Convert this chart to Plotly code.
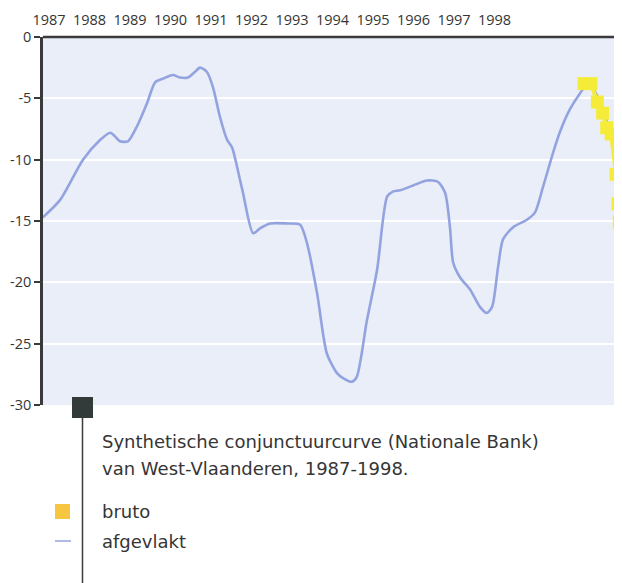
import plotly.graph_objects as go

# smoothed series (afgevlakt): time in fractional years, value
smooth_t = [1986.85, 1987.27, 1987.84, 1988.26, 1988.51, 1988.63, 1988.75, 1988.95,
            1989.17, 1989.42, 1989.62, 1989.81, 1990.06, 1990.23, 1990.43, 1990.60,
            1990.73, 1990.90, 1991.05, 1991.22, 1991.40, 1991.52, 1991.72, 1991.79,
            1992.04, 1992.21, 1992.46, 1992.88, 1993.20, 1993.37, 1993.62, 1993.86,
            1994.11, 1994.26, 1994.48, 1994.60, 1994.85, 1995.10, 1995.35, 1995.49,
            1995.67, 1995.99, 1996.33, 1996.60, 1996.78, 1996.90, 1996.98, 1997.15,
            1997.40, 1997.64, 1997.81, 1997.94, 1998.09, 1998.21, 1998.46, 1998.80,
            1999.00, 1999.20, 1999.44, 1999.62, 1999.86, 2000.11, 2000.28, 2000.45,
            2000.70, 2000.93, 2001.10, 2001.20]
smooth_v = [-14.7, -13.3, -10.0, -8.4, -7.8, -8.1, -8.5, -8.5,
            -7.3, -5.4, -3.7, -3.4, -3.1, -3.3, -3.3, -2.85,
            -2.5, -2.85, -4.1, -6.5, -8.4, -9.0, -11.7, -12.7,
            -16.0, -15.6, -15.2, -15.2, -15.3, -16.8, -20.9, -25.8,
            -27.4, -27.8, -28.1, -27.7, -23.1, -19.0, -13.0, -12.6,
            -12.5, -12.1, -11.7, -11.8, -12.7, -15.5, -18.4, -19.6,
            -20.6, -22.0, -22.5, -22.0, -18.7, -16.5, -15.5, -14.9,
            -14.3, -12.2, -9.5, -7.7, -5.9, -4.6, -3.9, -4.3,
            -6.2, -9.0, -12.7, -15.0]

# raw series (bruto)
raw_t = [2000.21, 2000.38, 2000.54, 2000.67, 2000.77, 2000.88, 2001.00, 2001.05, 2001.08]
raw_v = [-3.8, -3.8, -5.3, -6.2, -7.4, -7.9, -11.2, -13.6, -15.1]

year_ticks = list(range(1987, 1999))
year_labels = [str(y) for y in year_ticks]
y_ticks = [0, -5, -10, -15, -20, -25, -30]

FONT = "Open Sans"
TXT = "#353535"

fig = go.Figure()
fig.add_trace(go.Scatter(x=smooth_t, y=smooth_v, mode="lines",
                         line=dict(color="#93a3e0", width=2.6, shape="spline", smoothing=0.7),
                         name="afgevlakt", showlegend=False))
fig.add_trace(go.Scatter(x=raw_t, y=raw_v, mode="lines+markers",
                         line=dict(color="#f5ec3a", width=4),
                         marker=dict(symbol="square", size=13, color="#f5ec3a"),
                         name="bruto", showlegend=False))

fig.update_layout(
    width=614, height=575,
    margin=dict(l=35, r=0, t=29, b=178, autoexpand=False),
    paper_bgcolor="white", plot_bgcolor="#e9eef8",
    font=dict(family=FONT, color=TXT, size=14),
    xaxis=dict(range=[1986.852, 2001.148], side="top", tickvals=year_ticks,
               ticktext=year_labels, showgrid=False, zeroline=False,
               showline=False, ticks="", automargin=False, ticklabelstandoff=8,
               tickfont=dict(size=14.5, color=TXT)),
    yaxis=dict(range=[-30, 0], tickvals=y_ticks, ticktext=[str(v) for v in y_ticks],
               showgrid=True, gridcolor="white", gridwidth=1.5, zeroline=False,
               showline=True, linecolor="#3a3a3a", linewidth=2.5, automargin=False,
               ticks="outside", ticklen=6, tickcolor="#3a3a3a", tickwidth=1.5,
               tickfont=dict(size=14.5, color=TXT)),
)

# top border line at 0
fig.add_shape(type="line", xref="paper", yref="paper", x0=0, x1=1, y0=1, y1=1,
              line=dict(color="#3a3a3a", width=2.5))
# dark square and vertical line
fig.add_shape(type="rect", xref="paper", yref="paper",
              x0=(72-43)/579, x1=(93-43)/579, y0=(405-418)/368, y1=(405-397)/368,
              fillcolor="#333a3a", line=dict(width=0))
fig.add_shape(type="line", xref="paper", yref="paper",
              x0=(82.5-43)/579, x1=(82.5-43)/579, y0=(405-418)/368, y1=(405-590)/368,
              line=dict(color="#3a3a3a", width=1.5))
# legend marks
fig.add_shape(type="rect", xref="paper", yref="paper",
              x0=(55-43)/579, x1=(70-43)/579, y0=(405-519)/368, y1=(405-504)/368,
              fillcolor="#f7c640", line=dict(width=0))
fig.add_shape(type="line", xref="paper", yref="paper",
              x0=(55-43)/579, x1=(71-43)/579, y0=(405-541)/368, y1=(405-541)/368,
              line=dict(color="#93a3e0", width=1.5))

def note(text, px, py, size=18):
    fig.add_annotation(text=text, xref="paper", yref="paper",
                       x=(px-43)/579, y=(405-py)/368, xanchor="left", yanchor="middle",
                       showarrow=False, font=dict(family="DejaVu Sans", size=size, color=TXT))

note("Synthetische conjunctuurcurve (Nationale Bank)", 100, 441)
note("van West-Vlaanderen, 1987-1998.", 100, 468)
note("bruto", 100, 512)
note("afgevlakt", 100, 541)

fig.write_html("out.html")
